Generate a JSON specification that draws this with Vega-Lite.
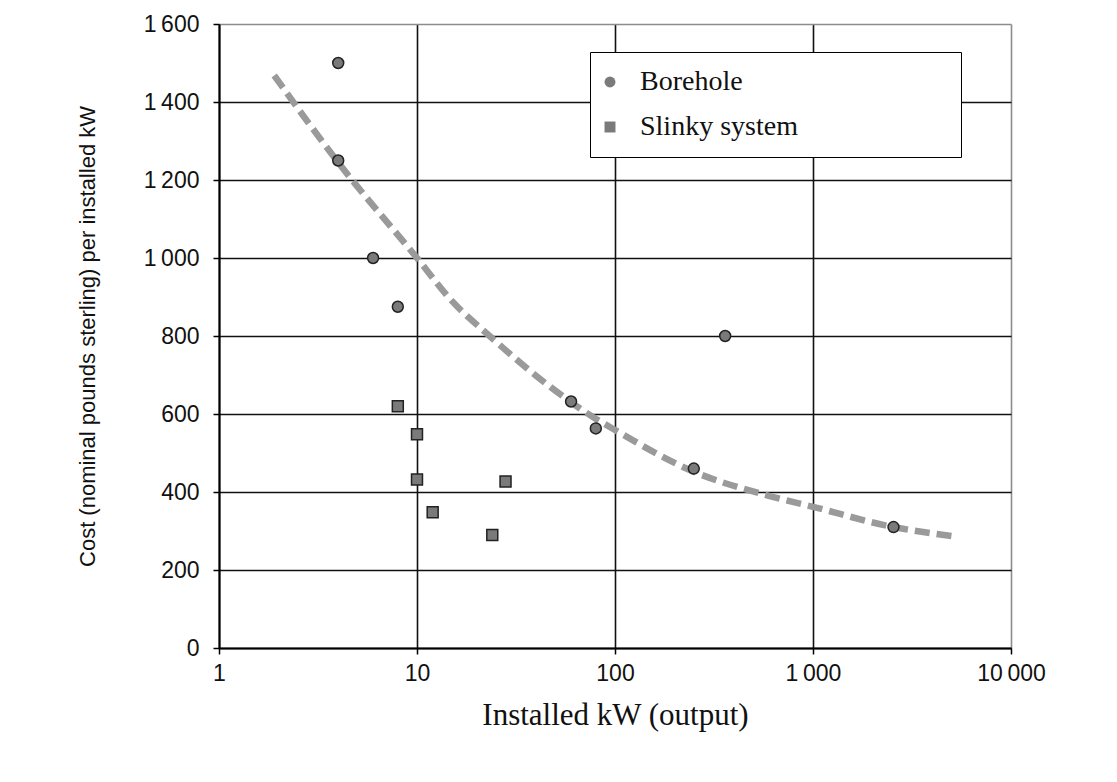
{
  "$schema": "https://vega.github.io/schema/vega-lite/v6.json",
  "width": 792,
  "height": 624,
  "autosize": {"type": "none"},
  "padding": {"left": 219, "top": 24, "right": 106, "bottom": 134},
  "background": "white",
  "config": {
    "view": {"stroke": null},
    "axis": {
      "labelFont": "Liberation Sans",
      "labelFontSize": 23,
      "labelColor": "#111",
      "titleFontWeight": "normal",
      "titleColor": "#111",
      "domainColor": "#000",
      "domainWidth": 2,
      "tickColor": "#000",
      "tickWidth": 1.5,
      "tickSize": 6,
      "gridWidth": 1.6
    }
  },
  "datasets": {
    "points": [
      {"kW": 4, "cost": 1500, "type": "Borehole"},
      {"kW": 4, "cost": 1250, "type": "Borehole"},
      {"kW": 6, "cost": 1000, "type": "Borehole"},
      {"kW": 8, "cost": 875, "type": "Borehole"},
      {"kW": 60, "cost": 632, "type": "Borehole"},
      {"kW": 80, "cost": 563, "type": "Borehole"},
      {"kW": 250, "cost": 460, "type": "Borehole"},
      {"kW": 360, "cost": 800, "type": "Borehole"},
      {"kW": 2550, "cost": 310, "type": "Borehole"},
      {"kW": 8, "cost": 620, "type": "Slinky system"},
      {"kW": 10, "cost": 548, "type": "Slinky system"},
      {"kW": 10, "cost": 432, "type": "Slinky system"},
      {"kW": 12, "cost": 348, "type": "Slinky system"},
      {"kW": 24, "cost": 290, "type": "Slinky system"},
      {"kW": 28, "cost": 427, "type": "Slinky system"}
    ],
    "trend": [
      {"kW": 1.9, "cost": 1468},
      {"kW": 4, "cost": 1245},
      {"kW": 10, "cost": 1000},
      {"kW": 15, "cost": 890},
      {"kW": 23.5, "cost": 798},
      {"kW": 47, "cost": 670},
      {"kW": 77, "cost": 593},
      {"kW": 100, "cost": 559},
      {"kW": 250, "cost": 452},
      {"kW": 580, "cost": 392},
      {"kW": 1000, "cost": 362},
      {"kW": 2500, "cost": 311},
      {"kW": 5000, "cost": 287}
    ]
  },
  "layer": [
    {
      "data": {"name": "trend"},
      "mark": {"type": "line", "interpolate": "monotone", "stroke": "#9a9a9a", "strokeWidth": 6.5, "strokeDash": [15, 7]},
      "encoding": {
        "x": {
          "field": "kW", "type": "quantitative",
          "scale": {"type": "log", "domain": [1, 10000], "nice": false},
          "axis": {
            "values": [1, 10, 100, 1000, 10000],
            "labelExpr": "replace(format(datum.value, ','), ',', '\u2009')",
            "labelPadding": 8,
            "labelFlush": false,
            "title": "Installed kW (output)",
            "titleFont": "Liberation Serif",
            "titleFontSize": 31,
            "titlePadding": 15,
            "gridColor": {"condition": {"test": "datum.value === 10000", "value": "#8c8c8c"}, "value": "#111"}
          }
        },
        "y": {
          "field": "cost", "type": "quantitative",
          "scale": {"domain": [0, 1600], "nice": false},
          "axis": {
            "values": [0, 200, 400, 600, 800, 1000, 1200, 1400, 1600],
            "labelExpr": "replace(format(datum.value, ','), ',', '\u2009')",
            "labelPadding": 14,
            "labelFlush": false,
            "title": "Cost (nominal pounds sterling) per installed kW",
            "titleFont": "Liberation Sans",
            "titleFontSize": 22,
            "titlePadding": 44,
            "gridColor": {"condition": {"test": "datum.value === 1600", "value": "#8c8c8c"}, "value": "#111"}
          }
        }
      }
    },
    {
      "data": {"name": "points"},
      "mark": {"type": "point", "filled": true, "fill": "#7a7a7a", "stroke": "#222", "strokeWidth": 1.5, "opacity": 1, "size": 120},
      "encoding": {
        "x": {"field": "kW", "type": "quantitative"},
        "y": {"field": "cost", "type": "quantitative"},
        "shape": {
          "field": "type", "type": "nominal",
          "scale": {"domain": ["Borehole", "Slinky system"], "range": ["circle", "square"]},
          "legend": {
            "title": null,
            "orient": "none",
            "legendX": 371,
            "legendY": 28,
            "padding": 16,
            "strokeColor": "#000",
            "fillColor": "white",
            "labelFont": "Liberation Serif",
            "labelFontSize": 28,
            "labelColor": "#111",
            "labelOffset": 16,
            "labelLimit": 600,
            "labelExpr": "datum.label + '\u2800\u2800\u2800\u2800\u2800\u2800\u2800'",
            "rowPadding": 17,
            "symbolSize": 120,
            "symbolFillColor": "#7a7a7a",
            "symbolStrokeColor": "#222",
            "symbolStrokeWidth": 1.5,
            "symbolOffset": -10
          }
        }
      }
    }
  ]
}
